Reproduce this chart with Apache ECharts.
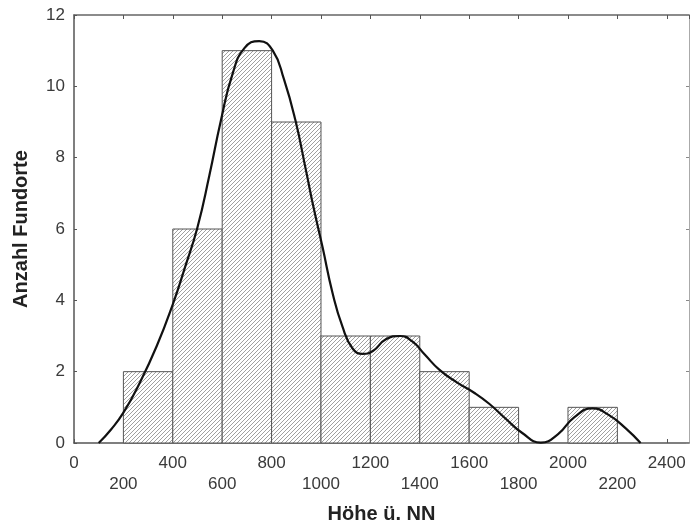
<!DOCTYPE html>
<html>
<head>
<meta charset="utf-8">
<script src="https://cdn.jsdelivr.net/npm/echarts@6/dist/echarts.min.js"></script>
<style>
html,body{margin:0;padding:0;background:#fff;}
#chart{width:690px;height:524px;}
</style>
</head>
<body>
<div id="chart"></div>
<script>
// Histogram bins (Höhe ü. NN) and counts (Anzahl Fundorte)
var binStart = [200, 400, 600, 800, 1000, 1200, 1400, 1600, 1800, 2000];
var binEnd   = [400, 600, 800, 1000, 1200, 1400, 1600, 1800, 2000, 2200];
var counts   = [2, 6, 11, 9, 3, 3, 2, 1, 0, 1];

// Smoothed density curve
var curveX = [100, 150, 200, 265, 335, 400, 450, 500, 548, 595, 642, 690, 750, 805, 850, 896, 939, 970, 1006, 1047, 1087, 1128, 1168, 1210, 1263, 1320, 1371, 1420, 1480, 1550, 1620, 1681, 1748, 1815, 1890, 1960, 2025, 2099, 2166, 2234, 2294];
var curveY = [0, 0.38, 0.85, 1.67, 2.72, 3.89, 4.94, 6.05, 7.5, 9.05, 10.35, 11.07, 11.27, 11.0, 10.2, 9.06, 7.65, 6.6, 5.5, 4.2, 3.26, 2.65, 2.5, 2.58, 2.91, 3.0, 2.84, 2.48, 2.05, 1.7, 1.41, 1.1, 0.68, 0.28, 0.01, 0.25, 0.72, 0.97, 0.78, 0.41, 0];

var xTitle = 'Höhe ü. NN';
var yTitle = 'Anzahl Fundorte';

// hatch pattern
var tile = document.createElement('canvas');
tile.width = 4; tile.height = 4;
var g = tile.getContext('2d');
g.fillStyle = '#ffffff';
g.fillRect(0, 0, 4, 4);
g.strokeStyle = '#a0a0a0';
g.lineWidth = 1;
g.beginPath();
g.moveTo(-1, 5); g.lineTo(5, -1);
g.moveTo(-1, 1); g.lineTo(1, -1);
g.moveTo(3, 5); g.lineTo(5, 3);
g.stroke();
var hatch = {image: tile, repeat: 'repeat'};

var binData = binStart.map(function (s, i) { return [s, binEnd[i], counts[i]]; });
var curveData = curveX.map(function (x, i) { return [x, curveY[i]]; });

var font = 'Liberation Sans, Arial, sans-serif';
var chart = echarts.init(document.getElementById('chart'), null, {renderer: 'canvas'});
chart.setOption({
  animation: false,
  backgroundColor: '#fff',
  grid: {left: 74, right: 1, top: 15, bottom: 81, containLabel: false, outerBoundsMode: 'none'},
  xAxis: [{
    type: 'value', min: 0, max: 2490, interval: 200, position: 'bottom',
    name: xTitle, nameLocation: 'middle', nameGap: 61,
    nameTextStyle: {fontFamily: font, fontSize: 20, fontWeight: 'bold', color: '#222'},
    axisLine: {show: true, onZero: false, lineStyle: {color: '#555', width: 1.5}},
    axisTick: {show: true, inside: true, length: 4, lineStyle: {color: '#555'}},
    splitLine: {show: false},
    axisLabel: {
      fontFamily: font, fontSize: 17, color: '#3a3a3a', margin: 10, lineHeight: 21,
      showMaxLabel: false,
      formatter: function (v) {
        if (v % 200 !== 0) return '';
        return (v % 400 === 0) ? String(v) : '\n' + v;
      }
    }
  }, {
    type: 'value', min: 0, max: 2490, interval: 200, position: 'top',
    axisLine: {show: true, onZero: false, lineStyle: {color: '#666', width: 1.5}},
    axisTick: {show: true, inside: true, length: 4, lineStyle: {color: '#555'}},
    axisLabel: {show: false}, splitLine: {show: false}
  }],
  yAxis: [{
    type: 'value', min: 0, max: 12, interval: 2, position: 'left',
    name: yTitle, nameLocation: 'middle', nameGap: 43,
    nameTextStyle: {fontFamily: font, fontSize: 20, fontWeight: 'bold', color: '#222'},
    axisLine: {show: true, onZero: false, lineStyle: {color: '#555', width: 1.5}},
    axisTick: {show: true, inside: true, length: 3, lineStyle: {color: '#555'}},
    splitLine: {show: false},
    axisLabel: {fontFamily: font, fontSize: 17, color: '#3a3a3a', margin: 9}
  }, {
    type: 'value', min: 0, max: 12, interval: 2, position: 'right',
    axisLine: {show: true, onZero: false, lineStyle: {color: '#aaa', width: 1}},
    axisTick: {show: true, inside: true, length: 3, lineStyle: {color: '#888'}},
    axisLabel: {show: false}, splitLine: {show: false}
  }],
  series: [{
    type: 'custom',
    xAxisIndex: 0, yAxisIndex: 0,
    data: binData,
    renderItem: function (params, api) {
      var h = api.value(2);
      if (!h) return null;
      var p0 = api.coord([api.value(0), h]);
      var p1 = api.coord([api.value(1), 0]);
      return {
        type: 'rect',
        shape: {x: p0[0], y: p0[1], width: p1[0] - p0[0], height: p1[1] - p0[1]},
        style: {fill: hatch, stroke: '#555', lineWidth: 1}
      };
    },
    z: 2
  }, {
    type: 'line',
    xAxisIndex: 0, yAxisIndex: 0,
    data: curveData,
    smooth: 0.5,
    showSymbol: false,
    lineStyle: {color: '#111', width: 2.2},
    z: 3
  }]
});
</script>
</body>
</html>
